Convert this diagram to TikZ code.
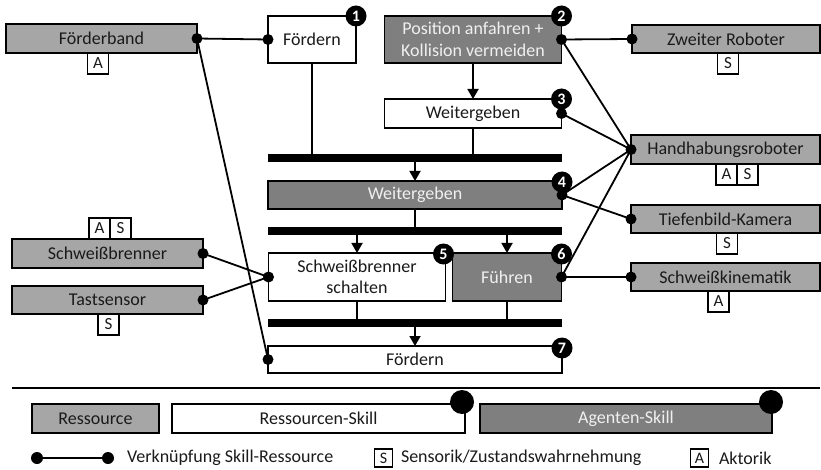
\documentclass[tikz,border=0pt]{standalone}
\usepackage{fontspec}
\setmainfont{Carlito}
\usetikzlibrary{arrows.meta}
\definecolor{resgray}{HTML}{A6A6A6}
\definecolor{agentgray}{HTML}{7F7F7F}
\definecolor{inktext}{HTML}{1A1A1A}
\begin{document}
\begin{tikzpicture}[x=1pt,y=-1pt,
  every node/.style={inner sep=0pt,outer sep=0pt},
  base/.style={draw=black,line width=1.7pt,rectangle,align=center,
    font=\fontsize{18}{21.5}\selectfont},
  res/.style={base,fill=resgray,text=inktext,minimum height=29pt},
  rskill/.style={base,fill=white,text=inktext},
  askill/.style={base,fill=agentgray,text=white!94!black},
  tag/.style={draw=black,line width=1.4pt,fill=white,text=inktext,
    minimum size=21pt,font=\fontsize{17}{17}\selectfont},
  smalltag/.style={draw=black,line width=1.3pt,fill=white,text=inktext,
    minimum size=18pt,font=\fontsize{16}{16}\selectfont},
  badge/.style={circle,fill=black,minimum size=21pt,text=white,
    font=\fontsize{16}{16}\selectfont\bfseries},
  bigdot/.style={circle,fill=black,minimum size=24pt},
  bar/.style={fill=black,minimum height=8pt,minimum width=294pt},
  link/.style={line width=1.8pt},
  flow/.style={line width=1.8pt,-{Triangle[width=11pt,length=10pt]}},
  legtext/.style={anchor=west,text=inktext,font=\fontsize{18}{21.5}\selectfont}]
\useasboundingbox (0,0) rectangle (821,470);

% ---------- skills and process bars ----------
\node[rskill,minimum width=88pt,minimum height=47pt] (s1) at (312,39.5) {Fördern};
\node[askill,minimum width=177pt,minimum height=47pt] (s2) at (473,39.5)
  {Position anfahren +\\Kollision vermeiden};
\node[rskill,minimum width=177pt,minimum height=29pt] (s3) at (473,113.5) {Weitergeben};
\node[bar] (bar1) at (415,158) {};
\node[askill,minimum width=294pt,minimum height=28pt] (s4) at (415,195) {Weitergeben};
\node[bar] (bar2) at (415,231.5) {};
\node[rskill,minimum width=177pt,minimum height=48pt] (s5) at (357,277)
  {Schweißbrenner\\schalten};
\node[askill,minimum width=109pt,minimum height=48pt] (s6) at (507,277) {Führen};
\node[bar] (bar3) at (415,323) {};
\node[rskill,minimum width=294pt,minimum height=27pt] (s7) at (415,359.5) {Fördern};

% numbered badges on the skill corners
\node[badge] (b1) at (s1.north east) {1};
\node[badge] (b2) at (s2.north east) {2};
\node[badge] (b3) at (s3.north east) {3};
\node[badge] (b4) at ([yshift=-1pt]s4.north east) {4};
\node[badge] (b5) at ([xshift=-2pt,yshift=-1pt]s5.north east) {5};
\node[badge] (b6) at ([yshift=-1pt]s6.north east) {6};
\node[badge] (b7) at ([yshift=-2pt]s7.north east) {7};

% process flow
\draw[link] (s1.south) -- (s1.south |- bar1.north);
\draw[flow] (s2.south) -- (s3.north);
\draw[link] (s3.south) -- (s3.south |- bar1.north);
\draw[flow] (s4.north |- bar1.south) -- (s4.north);
\draw[link] (s4.south) -- (s4.south |- bar2.north);
\draw[flow] (s5.north |- bar2.south) -- (s5.north);
\draw[flow] (s6.north |- bar2.south) -- (s6.north);
\draw[link] (s5.south) -- (s5.south |- bar3.north);
\draw[link] (s6.south) -- (s6.south |- bar3.north);
\draw[flow] (s7.north |- bar3.south) -- (s7.north);

% ---------- resources ----------
\node[res,minimum width=191pt] (fb) at (101.5,38.5) {Förderband};
\node[tag] (fbA) at (98,63.5) {A};
\node[res,minimum width=191pt] (sb) at (107.5,253.5) {Schweißbrenner};
\node[tag] (sbA) at (99.5,228.5) {A};
\node[tag] (sbS) at (120.5,228.5) {S};
\node[res,minimum width=191pt,minimum height=28pt] (ts) at (107.5,300) {Tastsensor};
\node[tag] (tsS) at (108.5,324.5) {S};

\node[res,minimum width=188pt,minimum height=28pt] (zr) at (726,39) {Zweiter Roboter};
\node[tag] (zrS) at (728,63.5) {S};
\node[res,minimum width=189pt] (hr) at (725.5,149.5) {Handhabungsroboter};
\node[tag] (hrA) at (726.5,174.5) {A};
\node[tag] (hrS) at (747.5,174.5) {S};
\node[res,minimum width=189pt,minimum height=28pt] (tk) at (725.5,219) {Tiefenbild-Kamera};
\node[tag] (tkS) at (727,243.5) {S};
\node[res,minimum width=189pt,minimum height=28pt] (sk) at (725.5,277) {Schweißkinematik};
\node[tag] (skA) at (718.5,301.5) {A};

% ---------- skill-resource links ----------
\draw[link] (fb.east) -- (s1.west);
\draw[link] (fb.east) -- (s7.west);
\draw[link] (s2.east) -- (zr.west);
\draw[link] (s2.east) -- (hr.west);
\draw[link] (s3.east) -- (hr.west);
\draw[link] (s4.east) -- (hr.west);
\draw[link] (s4.east) -- (tk.west);
\draw[link] (s6.east) -- (hr.west);
\draw[link] (s6.east) -- (sk.west);
\draw[link] (sb.east) -- (s5.west);
\draw[link] (ts.east) -- (s5.west);

\foreach \p in {fb.east,sb.east,ts.east,s1.west,s5.west,s7.west,
                s2.east,s3.east,s4.east,s6.east,
                zr.west,hr.west,tk.west,sk.west}
  \fill (\p) circle (5.5pt);

% ---------- legend ----------
\coordinate (sepL) at (12,388);
\coordinate (sepR) at (820,388);
\draw[line width=2.2pt] (sepL) -- (sepR);

\node[res,minimum width=127pt] (lres) at (95.5,418.5) {Ressource};
\node[rskill,minimum width=293pt,minimum height=29pt] (lrs) at (318.5,418.5) {Ressourcen-Skill};
\node[bigdot] (lrsdot) at ([xshift=-3pt,yshift=2pt]lrs.north east) {};
\node[askill,minimum width=292pt,minimum height=29pt] (las) at (626,418.5) {Agenten-Skill};
\node[bigdot] (lasdot) at ([xshift=-1pt,yshift=2pt]las.north east) {};

\coordinate (lk1) at (37,458);
\coordinate (lk2) at (108,458);
\draw[link] (lk1) -- (lk2);
\fill (lk1) circle (6pt);
\fill (lk2) circle (6pt);
\node[legtext] (lktext) at (127,458) {Verknüpfung Skill-Ressource};

\node[smalltag] (lS) at (383.5,458) {S};
\node[legtext] (lStext) at (401,458) {Sensorik/Zustandswahrnehmung};
\node[smalltag] (lA) at (699.5,458) {A};
\node[legtext] (lAtext) at (719,458) {Aktorik};
\end{tikzpicture}
\end{document}
